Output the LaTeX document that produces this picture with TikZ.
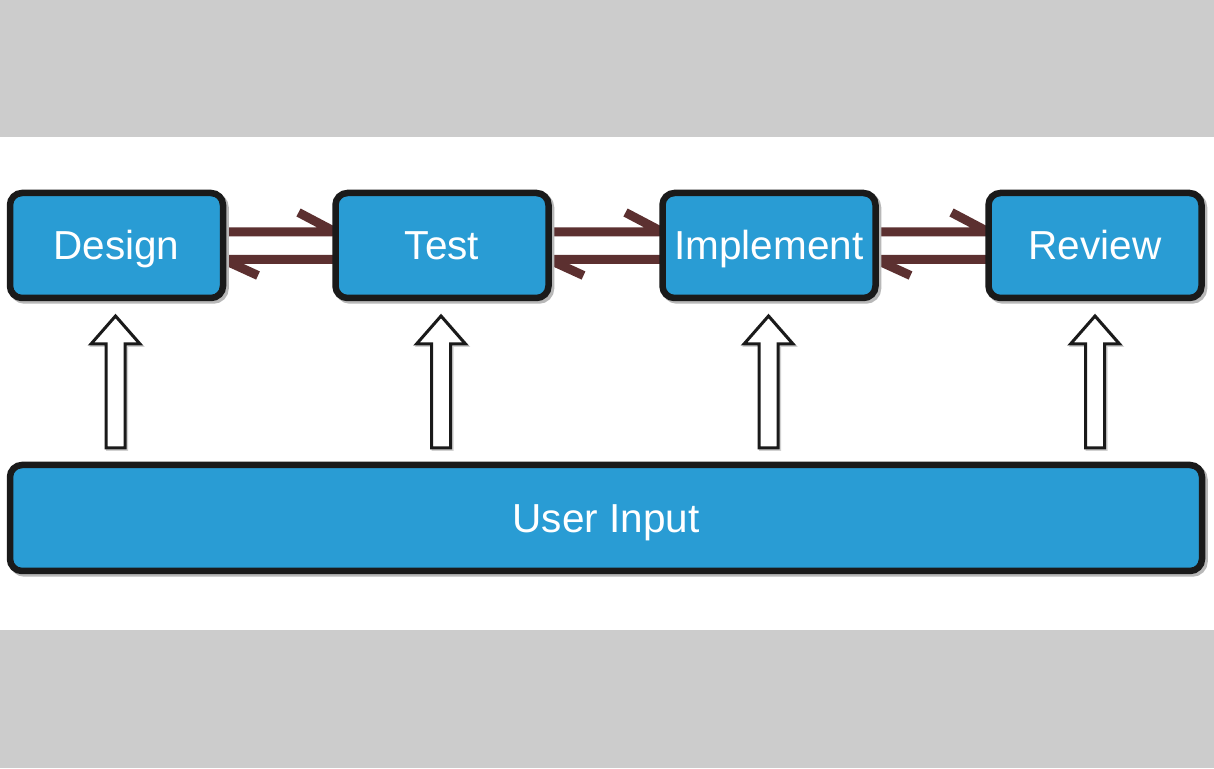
\documentclass[tikz,border=0pt]{standalone}
\usepackage{fontspec}
\setmainfont{Liberation Sans}
\usetikzlibrary{shadows}
\pgfdeclarelayer{bg}
\pgfdeclarelayer{links}
\pgfsetlayers{bg,links,main}
\definecolor{boxblue}{HTML}{299CD4}
\definecolor{linkbrown}{HTML}{5C3030}
\definecolor{edge}{HTML}{1A1A1A}
\definecolor{bandgrey}{HTML}{CCCCCC}
\tikzset{
  stage/.style={draw=edge, line width=6.5pt, fill=boxblue, rounded corners=12pt,
    inner sep=0pt, outer sep=0pt, text=white,
    font=\fontsize{40.5}{48}\selectfont, text height=29pt, text depth=0pt,
    drop shadow={shadow xshift=2.5pt, shadow yshift=-2.5pt, fill=black!28,
      draw=black!28, line width=6.5pt, opacity=1}},
  smallstage/.style={stage, minimum width=213pt, minimum height=105pt},
  link/.style={draw=linkbrown, line width=9pt},
  hollow/.style={draw=edge, line width=3pt, fill=white, line join=miter},
  hollowshadow/.style={draw=black!18, line width=3pt},
}
\begin{document}
\begin{tikzpicture}[x=1pt,y=1pt]
\useasboundingbox (0,0) rectangle (1214,768);
\begin{pgfonlayer}{bg}
\fill[bandgrey] (0,0) rectangle (1214,768);
\fill[white] (0,138) rectangle (1214,631);
\end{pgfonlayer}

\node[smallstage] (design) at (116.5,522.5) {Design};
\node[smallstage] (test) at (442,522.5) {Test};
\node[smallstage] (impl) at (769,522.5) {Implement};
\node[smallstage] (review) at (1095,522.5) {Review};
\node[stage, minimum width=1192pt, minimum height=106pt] (user) at (606,250) {User Input};

% paired connectors between stages (behind the boxes)
\begin{pgfonlayer}{links}
\foreach \a/\b in {design/test, test/impl, impl/review} {
  \draw[link] ([yshift=13.5pt]\a.east) -- ([yshift=13.5pt]\b.west) -- ++(-37,19.5);
  \draw[link] ([yshift=-14pt]\b.west) -- ([yshift=-14pt]\a.east) -- ++(35,-16);
}
\end{pgfonlayer}

% hollow up arrows from User Input to each stage
\foreach \s/\dx in {design/-1, test/-1, impl/-0.5, review/0} {
  \draw[hollowshadow] ([xshift=\dx pt+1.5pt,yshift=-19.5pt]\s.south) -- ++(24.5,-28) -- ++(-15,0) -- ++(0,-104) -- ++(-19,0) -- ++(0,104) -- ++(-15,0) -- cycle;
  \draw[hollow] ([xshift=\dx pt,yshift=-18pt]\s.south) -- ++(24.5,-28) -- ++(-15,0) -- ++(0,-104) -- ++(-19,0) -- ++(0,104) -- ++(-15,0) -- cycle;
}
\end{tikzpicture}
\end{document}
